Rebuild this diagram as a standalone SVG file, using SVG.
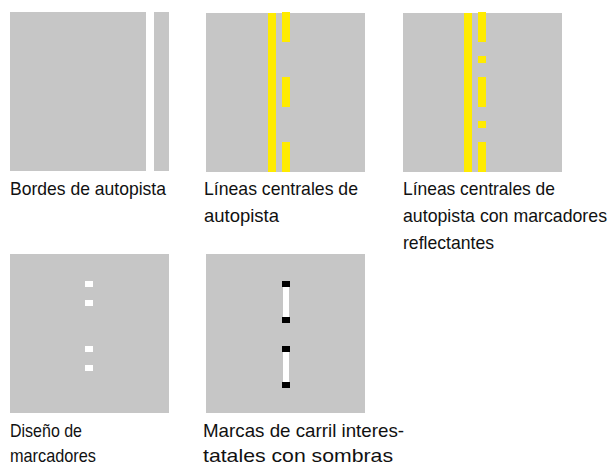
<svg xmlns="http://www.w3.org/2000/svg" width="610" height="464" viewBox="0 0 610 464">
<style>
.road{fill:#C6C6C6}
.yel{fill:#FFEB00}
.wht{fill:#FFFFFF}
.blk{fill:#000000}
.lbl{font-family:"Liberation Sans",Arial,sans-serif;font-size:19px;fill:#111111}
</style>
<rect width="610" height="464" fill="#FFFFFF"/>
<g id="panel-bordes">
<rect class="road" x="10" y="12" width="159" height="159"/>
<rect class="wht" x="146" y="12" width="8" height="159"/>
<text class="lbl" x="10" y="195" textLength="156" lengthAdjust="spacingAndGlyphs">Bordes de autopista</text>
</g>
<g id="panel-lineas">
<rect class="road" x="206" y="13" width="159" height="159"/>
<rect class="yel" x="268" y="13" width="8" height="159"/>
<rect class="yel" x="282" y="12" width="8" height="30"/>
<rect class="yel" x="282" y="77" width="8" height="30"/>
<rect class="yel" x="282" y="142" width="8" height="30"/>
<text class="lbl" x="204" y="195" textLength="154" lengthAdjust="spacingAndGlyphs">Líneas centrales de</text>
<text class="lbl" x="204" y="222" textLength="75" lengthAdjust="spacingAndGlyphs">autopista</text>
</g>
<g id="panel-lineas-marcadores">
<rect class="road" x="403" y="13" width="159" height="159"/>
<rect class="yel" x="464" y="13" width="8" height="159"/>
<rect class="yel" x="478" y="12" width="8" height="30"/>
<rect class="yel" x="478" y="56" width="8" height="7"/>
<rect class="yel" x="478" y="77" width="8" height="30"/>
<rect class="yel" x="478" y="121" width="8" height="7"/>
<rect class="yel" x="478" y="142" width="8" height="30"/>
<text class="lbl" x="403" y="195" textLength="152" lengthAdjust="spacingAndGlyphs">Líneas centrales de</text>
<text class="lbl" x="403" y="222" textLength="204" lengthAdjust="spacingAndGlyphs">autopista con marcadores</text>
<text class="lbl" x="403" y="249" textLength="91" lengthAdjust="spacingAndGlyphs">reflectantes</text>
</g>
<g id="panel-diseno">
<rect class="road" x="10" y="254" width="159" height="159"/>
<rect class="wht" x="85" y="281" width="8" height="6"/>
<rect class="wht" x="85" y="300" width="8" height="6"/>
<rect class="wht" x="85" y="346" width="8" height="6"/>
<rect class="wht" x="85" y="365" width="8" height="6"/>
<text class="lbl" x="10" y="437" textLength="72" lengthAdjust="spacingAndGlyphs">Diseño de</text>
<text class="lbl" x="10" y="462" textLength="86" lengthAdjust="spacingAndGlyphs">marcadores</text>
</g>
<g id="panel-marcas">
<rect class="road" x="206" y="254" width="159" height="159"/>
<rect class="blk" x="282" y="281" width="8" height="6"/>
<rect class="wht" x="283" y="287" width="6" height="30"/>
<rect class="blk" x="282" y="317" width="8" height="6"/>
<rect class="blk" x="282" y="346" width="8" height="6"/>
<rect class="wht" x="283" y="352" width="6" height="30"/>
<rect class="blk" x="282" y="382" width="8" height="6"/>
<text class="lbl" x="203" y="437" textLength="201" lengthAdjust="spacingAndGlyphs">Marcas de carril interes-</text>
<text class="lbl" x="203" y="462" textLength="190" lengthAdjust="spacingAndGlyphs">tatales con sombras</text>
</g>
<g id="connectors"/>
</svg>
